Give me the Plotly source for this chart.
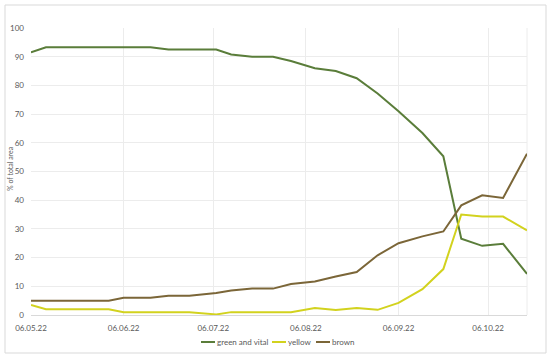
import plotly.graph_objects as go

dates = ["2022-05-06", "2022-05-11", "2022-05-18", "2022-05-25", "2022-06-01",
         "2022-06-06", "2022-06-15", "2022-06-21", "2022-06-28", "2022-07-07",
         "2022-07-12", "2022-07-19", "2022-07-26", "2022-08-01", "2022-08-09",
         "2022-08-16", "2022-08-23", "2022-08-30", "2022-09-06", "2022-09-14",
         "2022-09-21", "2022-09-27", "2022-10-04", "2022-10-11", "2022-10-19"]

green_vital = [91.5, 93.3, 93.3, 93.3, 93.3, 93.3, 93.3, 92.5, 92.5, 92.5,
               90.8, 90.0, 90.0, 88.5, 86.0, 85.0, 82.5, 77.2, 71.0, 63.4,
               55.3, 26.6, 24.1, 24.8, 14.3]

yellow = [3.5, 2.0, 2.0, 2.0, 2.0, 1.0, 1.0, 1.0, 1.0, 0.2,
          1.0, 1.0, 1.0, 1.0, 2.4, 1.7, 2.4, 1.8, 4.2, 9.0,
          16.0, 35.0, 34.3, 34.3, 29.5]

brown = [5.0, 5.0, 5.0, 5.0, 5.0, 6.0, 6.0, 6.7, 6.7, 7.7,
         8.5, 9.2, 9.2, 10.8, 11.7, 13.4, 15.0, 20.8, 25.0, 27.4,
         29.1, 38.2, 41.7, 40.8, 56.2]

tick_vals = ["2022-05-06", "2022-06-06", "2022-07-06", "2022-08-06", "2022-09-06", "2022-10-06"]
tick_text = ["06.05.22", "06.06.22", "06.07.22", "06.08.22", "06.09.22", "06.10.22"]

series_names = ["green and vital", "yellow", "brown"]
series_vals = [green_vital, yellow, brown]
series_colors = ["#5a7d3a", "#d2d21e", "#7b6638"]
y_title = "% of total area"

# plot area geometry (px) used to place the custom legend in paper coordinates
L, R, T, B = 31, 23, 28, 44
W, H = 550, 359
pw, ph = W - L - R, H - T - B


def px_x(x):
    return (x - L) / pw


def px_y(y):
    return (H - B - y) / ph


fig = go.Figure()
for name, vals, col in zip(series_names, series_vals, series_colors):
    fig.add_trace(go.Scatter(x=dates, y=vals, name=name, mode="lines",
                             line=dict(color=col, width=2)))

shapes = [dict(type="rect", xref="paper", yref="paper",
               x0=px_x(5), x1=px_x(546), y0=px_y(353), y1=px_y(5),
               line=dict(color="#d9d9d9", width=1), fillcolor="rgba(0,0,0,0)",
               layer="below"),
          dict(type="line", xref="paper", yref="paper", x0=1, x1=1, y0=0, y1=1,
               line=dict(color="#ececec", width=1), layer="below")]
annotations = [dict(text=y_title, xref="paper", yref="paper", x=px_x(10), y=px_y(169),
                    xanchor="center", yanchor="middle", textangle=-90, showarrow=False,
                    font=dict(size=7, color="#595959"))]
legend_x = [201, 272, 316]
legend_y = px_y(342)
for name, col, lx in zip(series_names, series_colors, legend_x):
    shapes.append(dict(type="line", xref="paper", yref="paper",
                       x0=px_x(lx), x1=px_x(lx + 14), y0=legend_y, y1=legend_y,
                       line=dict(color=col, width=2)))
    annotations.append(dict(text=name, xref="paper", yref="paper",
                            x=px_x(lx + 14), y=legend_y, xanchor="left", yanchor="middle",
                            showarrow=False, font=dict(size=8, color="#595959")))

fig.update_layout(
    width=W, height=H,
    margin=dict(l=L, r=R, t=T, b=B, autoexpand=False),
    paper_bgcolor="white", plot_bgcolor="white",
    font=dict(family="Lato, Carlito, sans-serif", size=8, color="#595959"),
    showlegend=False,
    xaxis=dict(type="date", range=[dates[0], dates[-1]],
               tickvals=tick_vals, ticktext=tick_text,
               showgrid=True, gridcolor="#ececec", gridwidth=1,
               showline=True, linecolor="#d9d9d9", mirror=False,
               zeroline=False, ticks="", ticklabelstandoff=5, automargin=False),
    yaxis=dict(range=[0, 100], dtick=10, showgrid=True, gridcolor="#ececec",
               gridwidth=1, zeroline=False, ticks="", ticklabelstandoff=6,
               automargin=False),
    shapes=shapes,
    annotations=annotations,
)

fig.write_html("out.html", config={"displayModeBar": False},
               post_script="document.body.style.margin='0';")
